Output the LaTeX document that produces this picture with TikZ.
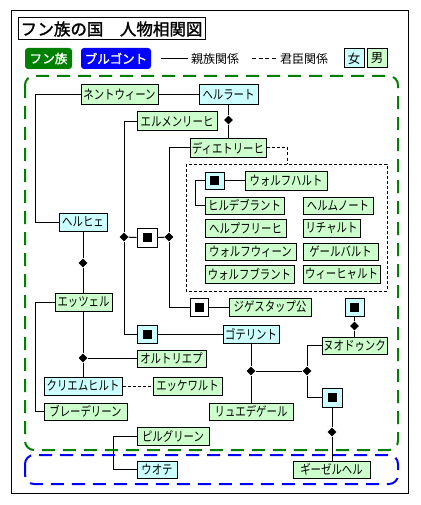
\documentclass[tikz,border=0pt]{standalone}
\usepackage{fontspec}
\newfontfamily\jp[FakeStretch=0.8]{Noto Sans CJK JP}
\newfontfamily\jpn{Noto Sans CJK JP}
\newfontfamily\jpb[FakeBold=1.5]{Noto Sans CJK JP}
\usetikzlibrary{shapes.geometric}
\definecolor{gfill}{HTML}{CCFFCC}
\definecolor{cfill}{HTML}{CCFFFF}
\definecolor{dkgreen}{HTML}{008000}
\definecolor{pblue}{HTML}{0000FF}
\tikzset{
  base/.style={draw, line width=1pt, inner sep=0pt, font=\jp\fontsize{13}{13}\selectfont},
  gb/.style={base, fill=gfill},
  cb/.style={base, fill=cfill},
  sqw/.style={base, fill=white},
  sqc/.style={base, fill=cfill},
  dmd/.style={shape=diamond, fill=black, inner sep=0pt, minimum size=9pt},
  conn/.style={line width=1pt},
  lord/.style={line width=1pt, dash pattern=on 3pt off 2pt},
  famz/.style={line width=2pt, dash pattern=on 13pt off 8pt, rounded corners=9pt},
}
\newcommand\bx[7]{%
  \pgfmathsetmacro\bw{#4-#2}\pgfmathsetmacro\bh{#5-#3}%
  \node[#6, minimum width=\bw pt, minimum height=\bh pt] (#1) at ({(#2+#4)/2},{(#3+#5)/2}) {#7};}
\newcommand\blk{\rule{9pt}{9pt}}
\begin{document}
\begin{tikzpicture}[x=1pt, y=-1pt]
\useasboundingbox (0,0) rectangle (420,505);
\fill[white] (0,0) rectangle (420,505);
\draw[line width=1pt] (11,11) rectangle (408,493);
% title
\bx{title}{18}{18}{205}{40}{draw, line width=1pt, inner sep=0pt, font=\jpb\fontsize{16.5}{16.5}\selectfont}{フン族の国　人物相関図}
% legend
\bx{lgH}{25}{48}{72}{69}{fill=dkgreen, rounded corners=3pt, text=white, inner sep=0pt, font=\jpb\fontsize{12.5}{12.5}\selectfont}{フン族}
\bx{lgB}{81}{48}{151}{69}{fill=pblue, rounded corners=3pt, text=white, inner sep=0pt, font=\jpb\fontsize{12.5}{12.5}\selectfont}{ブルゴント}
\coordinate (l1a) at (161,59); \coordinate (l1b) at (188,59);
\draw[conn] (l1a) -- (l1b);
\node[anchor=west, inner sep=0pt, font=\jpn\fontsize{12}{12}\selectfont] (lgK) at (191,59) {親族関係};
\coordinate (l2a) at (252,59); \coordinate (l2b) at (276,59);
\draw[line width=1pt, dash pattern=on 4pt off 2.7pt] (l2a) -- (l2b);
\node[anchor=west, inner sep=0pt, font=\jpn\fontsize{12}{12}\selectfont] (lgS) at (280,59) {君臣関係};
\bx{lgF}{344}{49}{364}{68}{cb, font=\jpn\fontsize{12.5}{12.5}\selectfont}{女}
\bx{lgM}{367}{49}{387}{68}{gb, font=\jpn\fontsize{12.5}{12.5}\selectfont}{男}
% groups
\draw[famz, draw=dkgreen] (25,76) rectangle (398,450);
\draw[famz, draw=pblue] (25,455) rectangle (398,484);
\draw[lord] (186,164) rectangle (387,291);
% nodes
\bx{nent}{81}{85}{158}{105}{gb}{ネントウィーン}
\bx{herl}{199}{85}{258}{105}{cb}{ヘルラート}
\bx{erm}{137}{112}{217}{131}{gb}{エルメンリーヒ}
\bx{diet}{190}{139}{266}{157}{gb}{ディエトリーヒ}
\bx{sq4}{205}{172}{224}{189}{sqc}{\blk}
\bx{wolfh}{245}{171}{327}{190}{gb}{ウォルフハルト}
\bx{hild}{205}{197}{284}{214}{gb}{ヒルデブラント}
\bx{helmn}{303}{197}{373}{214}{gb}{ヘルムノート}
\bx{helpf}{205}{219}{286}{237}{gb}{ヘルプフリーヒ}
\bx{rich}{303}{219}{360}{237}{gb}{リチャルト}
\bx{wolfw}{205}{243}{296}{260}{gb}{ウォルフウィーン}
\bx{gerb}{303}{243}{378}{260}{gb}{ゲールバルト}
\bx{wolfb}{205}{265}{294}{283}{gb}{ウォルフブラント}
\bx{wieh}{303}{265}{380}{283}{gb}{ウィーヒャルト}
\bx{helhe}{59}{213}{107}{231}{cb}{ヘルヒェ}
\bx{sq1}{137}{228}{157}{247}{sqw}{\blk}
\bx{etz}{55}{293}{112}{311}{gb}{エッツェル}
\bx{sq3}{190}{298}{208}{316}{sqw}{\blk}
\bx{jig}{229}{298}{311}{316}{gb}{ジゲスタップ公}
\bx{sq5}{345}{298}{364}{316}{sqc}{\blk}
\bx{sq2}{137}{325}{157}{343}{sqc}{\blk}
\bx{got}{223}{325}{279}{343}{cb}{ゴテリント}
\bx{nuo}{322}{337}{387}{354}{gb}{ヌオドゥンク}
\bx{ortl}{137}{350}{206}{367}{gb}{オルトリエプ}
\bx{krim}{44}{377}{122}{395}{cb}{クリエムヒルト}
\bx{ecke}{153}{377}{222}{395}{gb}{エッケワルト}
\bx{sq6}{322}{388}{342}{407}{sqc}{\blk}
\bx{bled}{44}{403}{127}{420}{gb}{ブレーデリーン}
\bx{ryu}{209}{403}{293}{420}{gb}{リュエデゲール}
\bx{pil}{137}{427}{209}{445}{gb}{ピルグリーン}
\bx{uote}{137}{461}{177}{478}{cb}{ウオテ}
\bx{gis}{293}{461}{370}{478}{gb}{ギーゼルヘル}
% diamonds
\node[dmd] (d1) at (228.5,120) {};
\node[dmd] (dA) at (124,237) {};
\node[dmd] (dB) at (169,237) {};
\node[dmd] (d2) at (83,263) {};
\node[dmd] (d3) at (83,358) {};
\node[dmd] (d4) at (251,371) {};
\node[dmd] (d5) at (307,371) {};
\node[dmd] (d6) at (354.5,326) {};
\node[dmd] (d7) at (332,432) {};
% helper coordinates
\coordinate (cL) at (35,95);
\coordinate (cH) at (195,180.5);
\coordinate (cD) at (287,164);
\coordinate (cP) at (113,436);
% connectors
\draw[conn] (nent.east) -- (herl.west);
\draw[conn] (nent.west) -- (cL) |- (helhe.west);
\draw[conn] (herl.south) -- (d1) -- (d1 |- diet.north);
\draw[conn] (erm.west) -- (erm.west -| dA) -- (dA) |- (sq2.west);
\draw[conn] (dA) -- (sq1.west);
\draw[conn] (sq1.east) -- (dB);
\draw[conn] (diet.west) -- (diet.west -| dB) -- (dB) |- (sq3.west);
\draw[conn] (sq3.east) -- (jig.west);
\draw[conn] (sq2.east) -- (got.west);
\draw[lord] (diet.east) -| (cD);
\draw[conn] (sq4.east) -- (wolfh.west);
\draw[conn] (sq4.west) -- (cH) |- (hild.west);
\draw[conn] (helhe.south) -- (d2) -- (d2 |- etz.north);
\draw[conn] (etz.west) -- (etz.west -| cL) |- (bled.west);
\draw[conn] (etz.south -| d3) -- (d3) -- (krim.north);
\draw[conn] (d3) -- (d3 -| ortl.west);
\draw[lord] (krim.east) -- (ecke.west);
\draw[conn] (got.south) -- (d4) -- (ryu.north);
\draw[conn] (d4) -- (d5);
\draw[conn] (d5) |- (nuo.west);
\draw[conn] (d5) |- (sq6.west);
\draw[conn] (sq5.south) -- (d6) -- (nuo.north);
\draw[conn] (sq6.south) -- (d7) -- (d7 |- gis.north);
\draw[conn] (pil.west) -- (cP) |- (uote.west);
\end{tikzpicture}
\end{document}
